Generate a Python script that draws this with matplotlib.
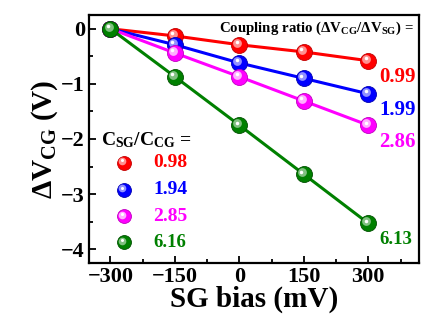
import matplotlib
matplotlib.use("Agg")
import matplotlib.pyplot as plt
from matplotlib.transforms import offset_copy

plt.rcParams['font.family'] = ['Liberation Serif', 'DejaVu Serif']
plt.rcParams['mathtext.fontset'] = 'custom'
plt.rcParams['mathtext.rm'] = 'Liberation Serif:bold'
plt.rcParams['mathtext.it'] = 'Liberation Serif:bold'
plt.rcParams['mathtext.bf'] = 'Liberation Serif:bold'
plt.rcParams['mathtext.default'] = 'bf'

# data
sg_bias = [-300, -150, 0, 150, 300]
dv_red = [0, -0.13, -0.29, -0.42, -0.58]
dv_blue = [0, -0.29, -0.62, -0.90, -1.18]
dv_magenta = [0, -0.44, -0.87, -1.31, -1.75]
dv_green = [0, -0.87, -1.75, -2.64, -3.53]
capacitance_ratio = ["0.98", "1.94", "2.85", "6.16"]
coupling_ratio = ["0.99", "1.99", "2.86", "6.13"]

series = [dv_red, dv_blue, dv_magenta, dv_green]
colors = ["#ff0000", "#0000ff", "#ff00ff", "#008000"]
darks = ["#c00000", "#0000b0", "#c000c0", "#005000"]
lights = ["#ff9090", "#9090ff", "#ffb0ff", "#80c080"]

fig = plt.figure(figsize=(4.28, 3.22), dpi=100)
ax = fig.add_axes([89 / 428, 1 - 263 / 322, 330 / 428, 248 / 322])


def sphere(ax, x, y, c, dk, lt, ms, z, base=None):
    # шарик: основной кружок + светлый блик вверху слева
    base = ax.transData if base is None else base
    ax.plot(x, y, "o", ms=ms, color=c, mec=dk, mew=0.6, zorder=z, transform=base)
    tr = offset_copy(base, fig=fig, x=-ms * 0.12, y=ms * 0.12, units="points")
    ax.plot(x, y, "o", ms=ms * 0.55, color=lt, mew=0, zorder=z + 0.1, transform=tr)
    tr2 = offset_copy(base, fig=fig, x=-ms * 0.16, y=ms * 0.16, units="points")
    ax.plot(x, y, "o", ms=ms * 0.22, color="white", mew=0, zorder=z + 0.2, transform=tr2)


for i, (vals, c) in enumerate(zip(series, colors)):
    ax.plot(sg_bias, vals, "-", color=c, lw=2.2, zorder=2 + i)
    sphere(ax, sg_bias, vals, c, darks[i], lights[i], 11.5, 2.5 + i)

ax.set_xlim(-350, 418)
ax.set_ylim(-4.25, 0.25)
ax.set_xticks([-300, -150, 0, 150, 300])
ax.set_xticks([-225, -75, 75, 225, 375], minor=True)
ax.set_yticks([0, -1, -2, -3, -4])
ax.set_yticks([-0.5, -1.5, -2.5, -3.5], minor=True)
ax.set_xticklabels(["\u2212300", "\u2212150", "0", "150", "300"])
ax.set_yticklabels(["0", "\u22121", "\u22122", "\u22123", "\u22124"])
ax.tick_params(which="both", direction="in", width=1.3, labelsize=16, pad=3)
ax.tick_params(which="major", length=5)
ax.tick_params(which="minor", length=3)
for lab in ax.get_xticklabels() + ax.get_yticklabels():
    lab.set_fontweight("bold")
for s in ax.spines.values():
    s.set_linewidth(1.6)

ax.set_xlabel("SG bias (mV)", fontsize=21, fontweight="bold", labelpad=-1)
ax.set_ylabel(r"$\Delta$V$_{CG}$ (V)", fontsize=21, fontweight="bold", labelpad=1)

# coupling ratio annotations
ax.text(0.985, 0.945, r"Coupling ratio ($\Delta$V$_{CG}$/$\Delta$V$_{SG}$) =",
        transform=ax.transAxes, ha="right", va="center", fontsize=10.7, fontweight="bold")
for i, (vals, c) in enumerate(zip(series, colors)):
    tr = offset_copy(ax.get_yaxis_transform(), fig=fig, x=0, y=-12, units="points")
    ax.text(0.88, vals[-1], coupling_ratio[i], color=c, fontsize=15 if i < 3 else 13.5,
            fontweight="bold", ha="left", va="center", transform=tr, zorder=10)

# capacitance legend
ax.text(0.035, 0.495, r"C$_{SG}$/C$_{CG}$ =", transform=ax.transAxes,
        ha="left", va="center", fontsize=14, fontweight="bold")
leg_y = [0.405, 0.295, 0.188, 0.083]
for i, c in enumerate(colors):
    x0 = (124 - 89) / 330
    sphere(ax, [x0], [leg_y[i]], c, darks[i], lights[i], 10, 10, base=ax.transAxes)
    ax.text((153 - 89) / 330, leg_y[i], capacitance_ratio[i], color=c,
            fontsize=14 if i < 3 else 13.5, fontweight="bold",
            ha="left", va="center", transform=ax.transAxes)

fig.savefig("out.png", dpi=100)
